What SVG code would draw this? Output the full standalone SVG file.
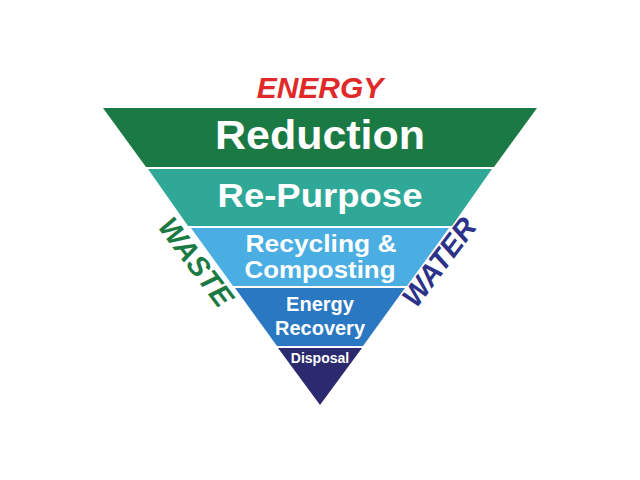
<svg xmlns="http://www.w3.org/2000/svg" width="640" height="480" viewBox="0 0 640 480">
<style>
.t{font-family:"Liberation Sans",Arial,sans-serif;font-weight:bold;fill:#fff;text-anchor:middle}
.s{font-family:"Liberation Sans",Arial,sans-serif;font-weight:bold;font-style:italic;text-anchor:middle}
</style>
<rect width="640" height="480" fill="#fff"/>
<g id="reduction"><polygon points="103,108 537,108 494,167 146,167" fill="#1b7a44"/><text class="t" x="320" y="149" font-size="40" textLength="210" lengthAdjust="spacingAndGlyphs">Reduction</text></g>
<g id="repurpose"><polygon points="148,169 492,169 452,226 188,226" fill="#30a898"/><text class="t" x="320" y="207" font-size="33" textLength="205" lengthAdjust="spacingAndGlyphs">Re-Purpose</text></g>
<g id="recycling"><polygon points="191,228 449,228 407,286 233,286" fill="#4aaee2"/><text class="t" x="321" y="252" font-size="24" textLength="151" lengthAdjust="spacingAndGlyphs">Recycling &amp;</text><text class="t" x="320" y="278" font-size="24" textLength="151" lengthAdjust="spacingAndGlyphs">Composting</text></g>
<g id="recovery"><polygon points="235,288 405,288 363,346 277,346" fill="#2a78c2"/><text class="t" x="320" y="311" font-size="20">Energy</text><text class="t" x="320" y="335" font-size="20">Recovery</text></g>
<g id="disposal"><polygon points="278,348 362,348 320,405" fill="#2b2a6e"/><text class="t" x="320" y="363" font-size="14">Disposal</text></g>
<g id="labels">
<text class="s" x="320" y="98" font-size="30" fill="#e02a2a">ENERGY</text>
<text class="s" x="188" y="268" font-size="29" fill="#1b7a44" transform="rotate(53 188 268)" font-style="normal">WASTE</text>
<text class="s" x="447" y="268" font-size="29" fill="#2b3288" transform="rotate(-53 447 268)" font-style="normal">WATER</text>
</g>
<g id="connectors"/>
</svg>
